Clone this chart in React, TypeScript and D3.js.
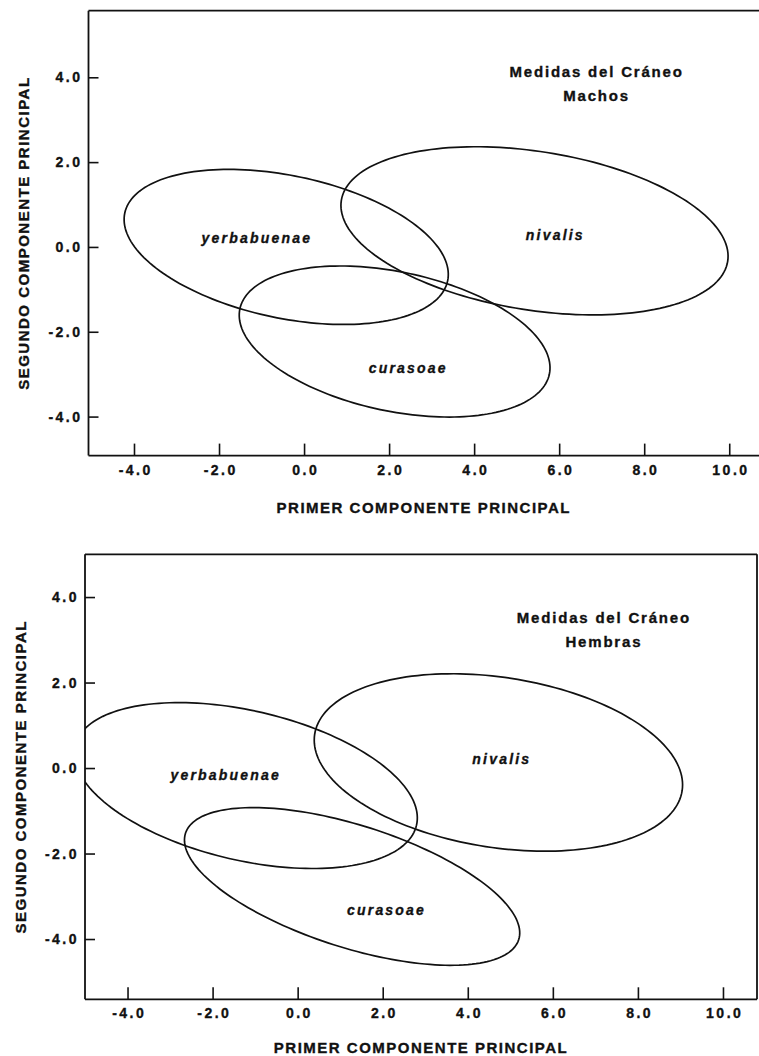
import React, { useEffect, useRef } from "react";
import * as d3 from "d3";

// ---- data ----
const species = ["yerbabuenae", "nivalis", "curasoae"];
const xTicks = [-4, -2, 0, 2, 4, 6, 8, 10];
const yTicks = [-4, -2, 0, 2, 4];

// Machos (top panel): ellipse centres, semi-axes and tilt (degrees, data space)
const machosCx = [-0.42, 5.42, 2.13];
const machosCy = [0.0, 0.38, -2.23];
const machosA = [3.88, 4.6, 3.72];
const machosB = [1.68, 1.87, 1.64];
const machosAngle = [-11.9, -9.0, -12.0];
const machosLabelX = [-1.11, 5.91, 2.45];
const machosLabelY = [0.21, 0.28, -2.86];

// Hembras (bottom panel)
const hembrasCx = [-1.22, 4.72, 1.28];
const hembrasCy = [-0.41, 0.13, -2.77];
const hembrasA = [4.12, 4.37, 4.11];
const hembrasB = [1.75, 1.99, 1.43];
const hembrasAngle = [-13.0, -8.7, -17.6];
const hembrasLabelX = [-1.69, 4.8, 2.09];
const hembrasLabelY = [-0.16, 0.21, -3.31];

const annotTitle = "Medidas del Cráneo";
const xTitle = "PRIMER COMPONENTE PRINCIPAL";
const yTitle = "SEGUNDO COMPONENTE PRINCIPAL";

const FONT = "'Liberation Sans', Arial, Helvetica, sans-serif";
const INK = "#111";

type PanelCfg = {
  id: string;
  subtitle: string;
  cx: number[];
  cy: number[];
  a: number[];
  b: number[];
  ang: number[];
  lx: number[];
  ly: number[];
  left: number;
  right: number;
  top: number;
  bottom: number;
  xDomain: [number, number];
  yDomain: [number, number];
  rightBorder: boolean;
  yTitleX: number;
  xTitleY: number;
  annotX: number;
  annotY1: number;
  annotY2: number;
};

const panels: PanelCfg[] = [
  {
    id: "machos",
    subtitle: "Machos",
    cx: machosCx,
    cy: machosCy,
    a: machosA,
    b: machosB,
    ang: machosAngle,
    lx: machosLabelX,
    ly: machosLabelY,
    left: 88.5,
    right: 759,
    top: 10.7,
    bottom: 455.6,
    xDomain: [-5.07, 10.7],
    yDomain: [-4.92, 5.57],
    rightBorder: false,
    yTitleX: 23,
    xTitleY: 507,
    annotX: 6.88,
    annotY1: 4.13,
    annotY2: 3.56,
  },
  {
    id: "hembras",
    subtitle: "Hembras",
    cx: hembrasCx,
    cy: hembrasCy,
    a: hembrasA,
    b: hembrasB,
    ang: hembrasAngle,
    lx: hembrasLabelX,
    ly: hembrasLabelY,
    left: 85,
    right: 757,
    top: 554.3,
    bottom: 999.3,
    xDomain: [-5.0, 10.8],
    yDomain: [-5.41, 5.0],
    rightBorder: true,
    yTitleX: 20,
    xTitleY: 1047,
    annotX: 7.2,
    annotY1: 3.53,
    annotY2: 2.95,
  },
];

function ellipsePoints(cx: number, cy: number, a: number, b: number, angDeg: number) {
  const th = (angDeg * Math.PI) / 180;
  return d3.range(0, 360, 2).map((deg) => {
    const t = (deg * Math.PI) / 180;
    const ex = a * Math.cos(t);
    const ey = b * Math.sin(t);
    return [cx + ex * Math.cos(th) - ey * Math.sin(th), cy + ex * Math.sin(th) + ey * Math.cos(th)] as [number, number];
  });
}

function Panel({ p }: { p: PanelCfg }) {
  const xRef = useRef<SVGGElement>(null);
  const yRef = useRef<SVGGElement>(null);
  const x = d3.scaleLinear().domain(p.xDomain).range([p.left, p.right]);
  const y = d3.scaleLinear().domain(p.yDomain).range([p.bottom, p.top]);

  useEffect(() => {
    const fmt = (d: d3.NumberValue) => (+d).toFixed(1);
    const xa = d3
      .axisBottom(x)
      .tickValues(xTicks)
      .tickFormat(fmt)
      .tickSizeInner(-12)
      .tickSizeOuter(0)
      .tickPadding(9);
    const ya = d3
      .axisLeft(y)
      .tickValues(yTicks)
      .tickFormat(fmt)
      .tickSizeInner(-10)
      .tickSizeOuter(0)
      .tickPadding(6);
    const gx = d3.select(xRef.current!);
    gx.call(xa as any);
    const gy = d3.select(yRef.current!);
    gy.call(ya as any);
    [gx, gy].forEach((g) => {
      g.select(".domain").remove();
      g.attr("font-family", FONT).attr("font-size", 14).attr("color", INK);
      g.selectAll(".tick line").attr("stroke-width", 1.6);
      g.selectAll(".tick text")
        .attr("font-weight", "bold")
        .attr("letter-spacing", "2.5px")
        .attr("stroke", INK)
        .attr("stroke-width", 0.35);
    });
    gx.selectAll(".tick text").attr("dx", "1.2px");
  }, []);

  const line = d3
    .line<[number, number]>()
    .x((d) => x(d[0]))
    .y((d) => y(d[1]))
    .curve(d3.curveLinearClosed);

  const clipId = `clip-${p.id}`;
  const midX = (p.left + p.right) / 2;
  const midY = (p.top + p.bottom) / 2;

  const textProps = {
    fontFamily: FONT,
    fontWeight: "bold" as const,
    fill: INK,
    stroke: INK,
    strokeWidth: 0.35,
    textAnchor: "middle" as const,
    dominantBaseline: "central" as const,
  };

  return (
    <g>
      <defs>
        <clipPath id={clipId}>
          <rect x={p.left} y={p.top} width={p.right - p.left} height={p.bottom - p.top} />
        </clipPath>
      </defs>
      {/* frame */}
      <g stroke={INK} strokeWidth={1.8} fill="none">
        <line x1={p.left} y1={p.top} x2={p.right} y2={p.top} />
        <line x1={p.left} y1={p.top} x2={p.left} y2={p.bottom} />
        <line x1={p.left} y1={p.bottom} x2={p.right} y2={p.bottom} />
        {p.rightBorder && <line x1={p.right} y1={p.top} x2={p.right} y2={p.bottom} />}
      </g>
      <g ref={xRef} transform={`translate(0,${p.bottom})`} />
      <g ref={yRef} transform={`translate(${p.left},0)`} />
      {/* ellipses */}
      <g clipPath={`url(#${clipId})`} fill="none" stroke={INK} strokeWidth={1.7}>
        {species.map((s, i) => (
          <path key={s} d={line(ellipsePoints(p.cx[i], p.cy[i], p.a[i], p.b[i], p.ang[i])) || ""} />
        ))}
      </g>
      {/* species labels */}
      {species.map((s, i) => (
        <text
          key={s + "-lab"}
          x={x(p.lx[i])}
          y={y(p.ly[i])}
          {...textProps}
          fontSize={14}
          fontStyle="italic"
          letterSpacing="2.2px"
        >
          {s}
        </text>
      ))}
      {/* annotation */}
      <text x={x(p.annotX)} y={y(p.annotY1)} {...textProps} fontSize={15} letterSpacing="1.8px">
        {annotTitle}
      </text>
      <text x={x(p.annotX)} y={y(p.annotY2)} {...textProps} fontSize={15} letterSpacing="1.8px">
        {p.subtitle}
      </text>
      {/* axis titles */}
      <text x={midX} y={p.xTitleY} {...textProps} fontSize={15} letterSpacing="1.5px">
        {xTitle}
      </text>
      <text
        transform={`translate(${p.yTitleX},${midY}) rotate(-90)`}
        {...textProps}
        fontSize={15}
        letterSpacing="1.5px"
      >
        {yTitle}
      </text>
    </g>
  );
}

export default function App() {
  return (
    <svg
      width={759}
      height={1056}
      viewBox="0 0 759 1056"
      style={{ position: "absolute", left: 0, top: 0, background: "#fff" }}
    >
      <rect x={0} y={0} width={759} height={1056} fill="#fff" />
      {panels.map((p) => (
        <Panel key={p.id} p={p} />
      ))}
    </svg>
  );
}
